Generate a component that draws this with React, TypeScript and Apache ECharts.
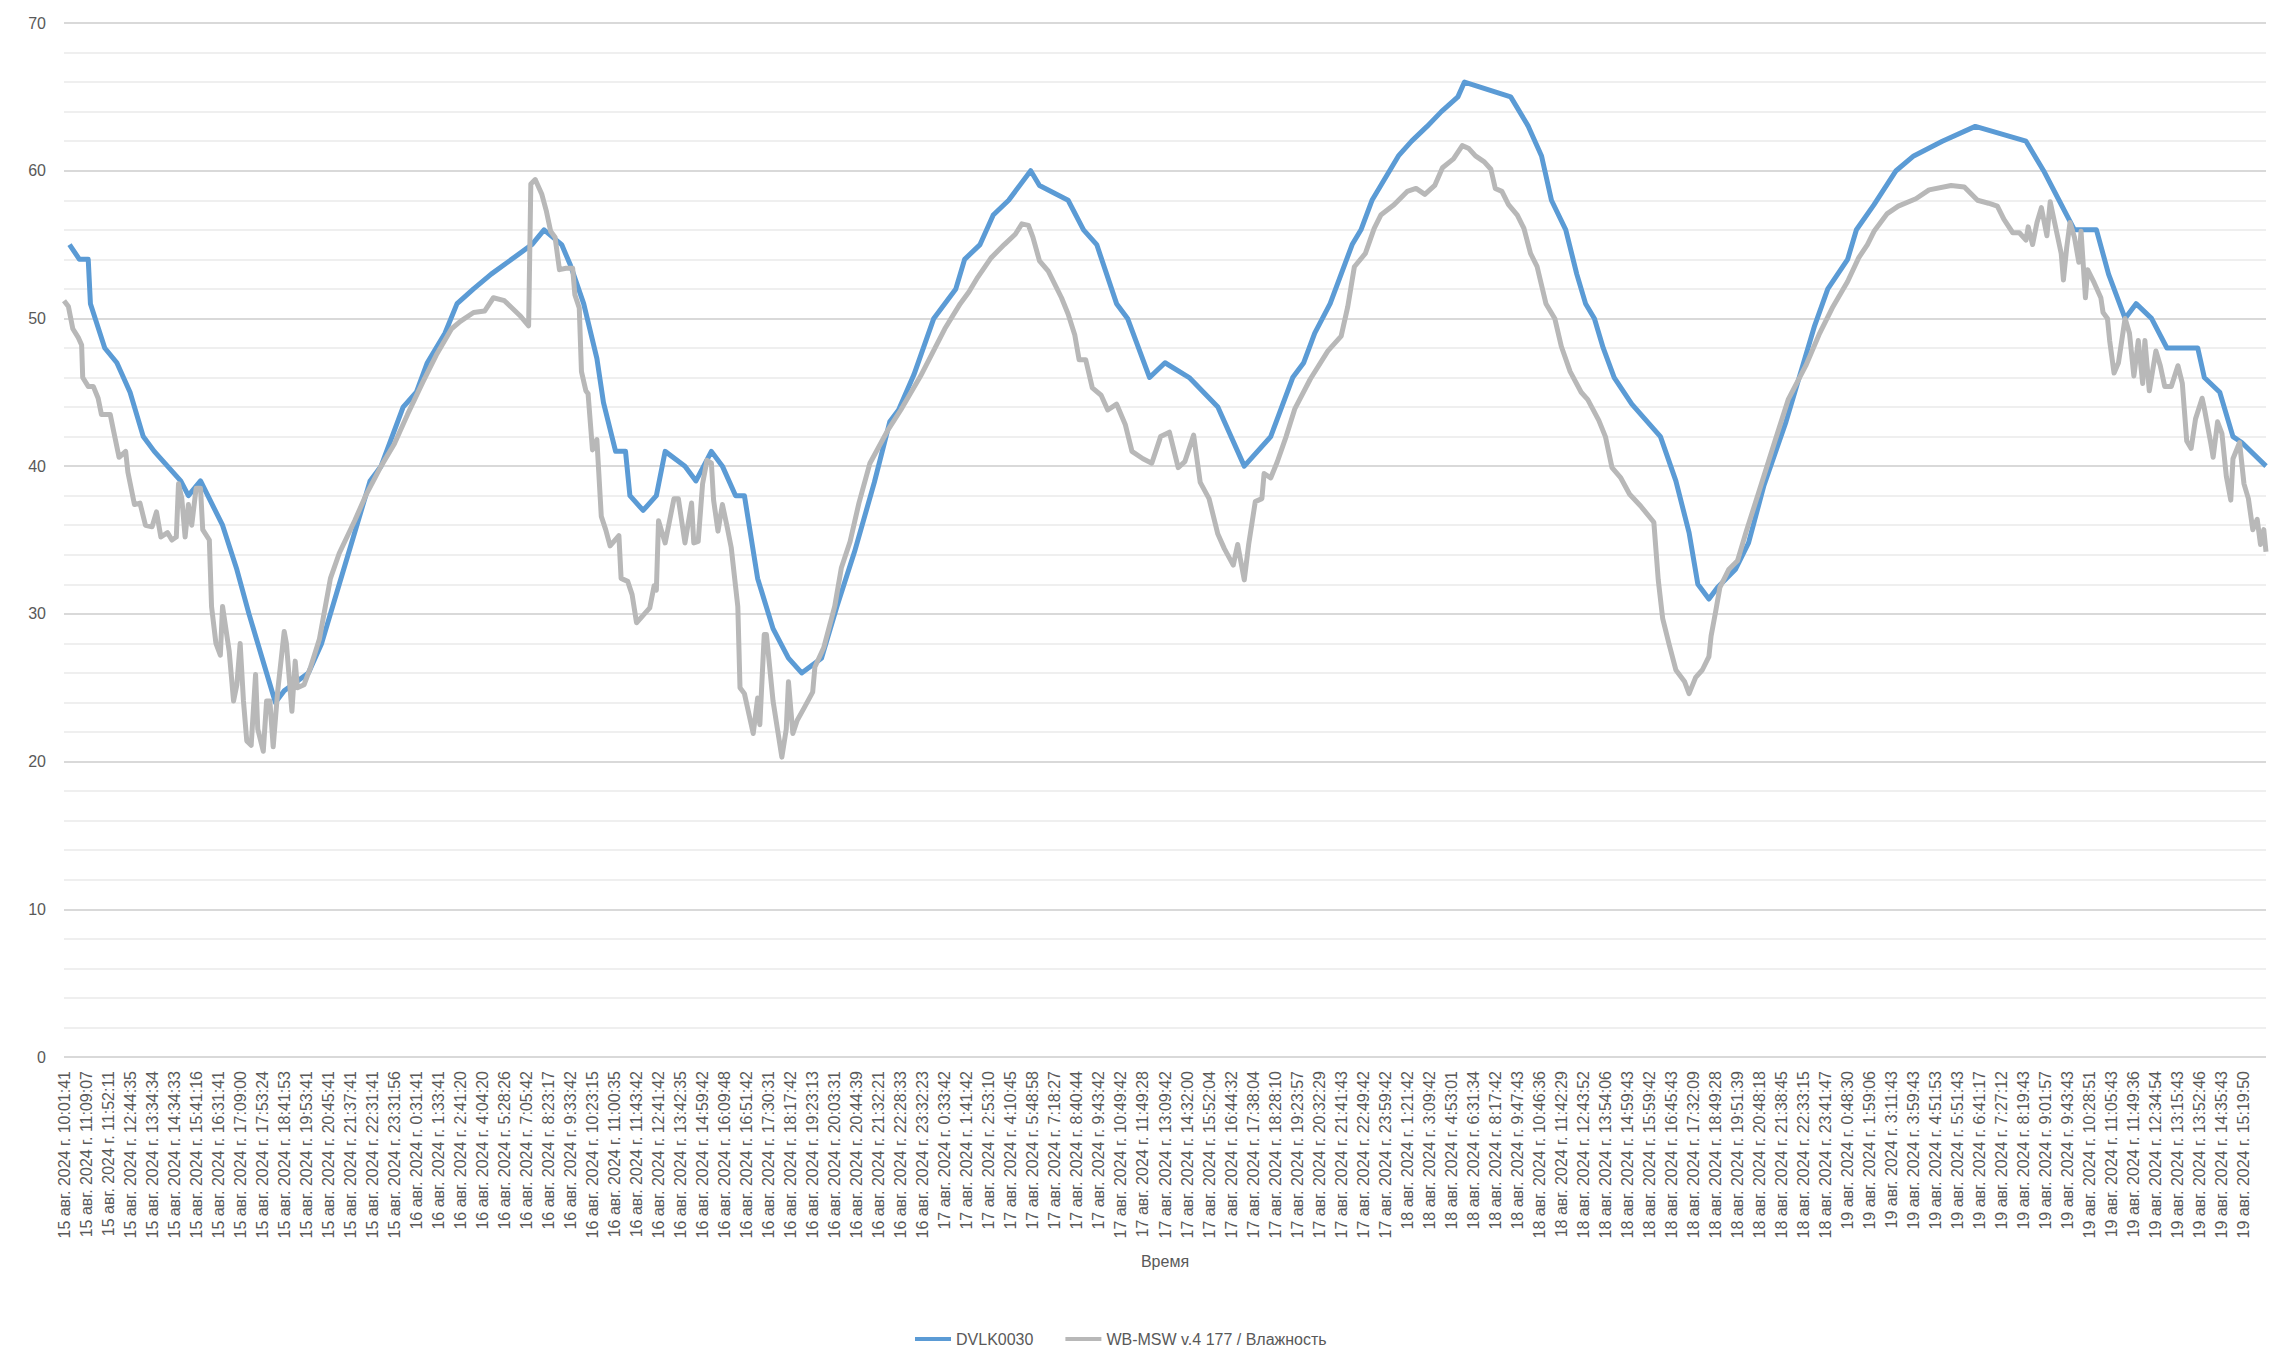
import { useEffect, useRef } from "react";
import * as echarts from "echarts";

// tick labels of the time axis (every labelled row of the source table)
const timeLabels: string[] = [
  "15 авг. 2024 г. 10:01:41", "15 авг. 2024 г. 11:09:07", "15 авг. 2024 г. 11:52:11", "15 авг. 2024 г. 12:44:35",
  "15 авг. 2024 г. 13:34:34", "15 авг. 2024 г. 14:34:33", "15 авг. 2024 г. 15:41:16", "15 авг. 2024 г. 16:31:41",
  "15 авг. 2024 г. 17:09:00", "15 авг. 2024 г. 17:53:24", "15 авг. 2024 г. 18:41:53", "15 авг. 2024 г. 19:53:41",
  "15 авг. 2024 г. 20:45:41", "15 авг. 2024 г. 21:37:41", "15 авг. 2024 г. 22:31:41", "15 авг. 2024 г. 23:31:56",
  "16 авг. 2024 г. 0:31:41", "16 авг. 2024 г. 1:33:41", "16 авг. 2024 г. 2:41:20", "16 авг. 2024 г. 4:04:20",
  "16 авг. 2024 г. 5:28:26", "16 авг. 2024 г. 7:05:42", "16 авг. 2024 г. 8:23:17", "16 авг. 2024 г. 9:33:42",
  "16 авг. 2024 г. 10:23:15", "16 авг. 2024 г. 11:00:35", "16 авг. 2024 г. 11:43:42", "16 авг. 2024 г. 12:41:42",
  "16 авг. 2024 г. 13:42:35", "16 авг. 2024 г. 14:59:42", "16 авг. 2024 г. 16:09:48", "16 авг. 2024 г. 16:51:42",
  "16 авг. 2024 г. 17:30:31", "16 авг. 2024 г. 18:17:42", "16 авг. 2024 г. 19:23:13", "16 авг. 2024 г. 20:03:31",
  "16 авг. 2024 г. 20:44:39", "16 авг. 2024 г. 21:32:21", "16 авг. 2024 г. 22:28:33", "16 авг. 2024 г. 23:32:23",
  "17 авг. 2024 г. 0:33:42", "17 авг. 2024 г. 1:41:42", "17 авг. 2024 г. 2:53:10", "17 авг. 2024 г. 4:10:45",
  "17 авг. 2024 г. 5:48:58", "17 авг. 2024 г. 7:18:27", "17 авг. 2024 г. 8:40:44", "17 авг. 2024 г. 9:43:42",
  "17 авг. 2024 г. 10:49:42", "17 авг. 2024 г. 11:49:28", "17 авг. 2024 г. 13:09:42", "17 авг. 2024 г. 14:32:00",
  "17 авг. 2024 г. 15:52:04", "17 авг. 2024 г. 16:44:32", "17 авг. 2024 г. 17:38:04", "17 авг. 2024 г. 18:28:10",
  "17 авг. 2024 г. 19:23:57", "17 авг. 2024 г. 20:32:29", "17 авг. 2024 г. 21:41:43", "17 авг. 2024 г. 22:49:42",
  "17 авг. 2024 г. 23:59:42", "18 авг. 2024 г. 1:21:42", "18 авг. 2024 г. 3:09:42", "18 авг. 2024 г. 4:53:01",
  "18 авг. 2024 г. 6:31:34", "18 авг. 2024 г. 8:17:42", "18 авг. 2024 г. 9:47:43", "18 авг. 2024 г. 10:46:36",
  "18 авг. 2024 г. 11:42:29", "18 авг. 2024 г. 12:43:52", "18 авг. 2024 г. 13:54:06", "18 авг. 2024 г. 14:59:43",
  "18 авг. 2024 г. 15:59:42", "18 авг. 2024 г. 16:45:43", "18 авг. 2024 г. 17:32:09", "18 авг. 2024 г. 18:49:28",
  "18 авг. 2024 г. 19:51:39", "18 авг. 2024 г. 20:48:18", "18 авг. 2024 г. 21:38:45", "18 авг. 2024 г. 22:33:15",
  "18 авг. 2024 г. 23:41:47", "19 авг. 2024 г. 0:48:30", "19 авг. 2024 г. 1:59:06", "19 авг. 2024 г. 3:11:43",
  "19 авг. 2024 г. 3:59:43", "19 авг. 2024 г. 4:51:53", "19 авг. 2024 г. 5:51:43", "19 авг. 2024 г. 6:41:17",
  "19 авг. 2024 г. 7:27:12", "19 авг. 2024 г. 8:19:43", "19 авг. 2024 г. 9:01:57", "19 авг. 2024 г. 9:43:43",
  "19 авг. 2024 г. 10:28:51", "19 авг. 2024 г. 11:05:43", "19 авг. 2024 г. 11:49:36", "19 авг. 2024 г. 12:34:54",
  "19 авг. 2024 г. 13:15:43", "19 авг. 2024 г. 13:52:46", "19 авг. 2024 г. 14:35:43", "19 авг. 2024 г. 15:19:50",
];

const seriesNames = ["DVLK0030", "WB-MSW v.4 177 / Влажность"];

// [position in label steps, humidity %]
const dvlkPoints: [number, number][] = [
  [0.25, 55], [0.7, 54], [1.1, 54], [1.2, 51], [1.85, 48], [2.4, 47], [3.0, 45], [3.6, 42], [4.1, 41],
  [4.7, 40], [5.3, 39], [5.65, 38], [6.2, 39], [7.2, 36], [7.85, 33], [8.4, 30], [9.0, 27], [9.6, 24],
  [10.0, 24.8], [11.1, 26], [11.7, 28], [12.5, 32], [13.3, 36], [13.9, 39], [14.4, 40], [15.4, 44],
  [16.0, 45], [16.5, 47], [17.3, 49], [17.85, 51], [18.6, 52], [19.4, 53], [21.25, 55], [21.8, 56],
  [22.6, 55], [23.0, 53.6], [23.6, 51], [24.2, 47.3], [24.5, 44.3], [25.05, 41], [25.5, 41], [25.7, 38],
  [26.3, 37], [26.9, 38], [27.3, 41], [28.2, 40], [28.7, 39], [29.4, 41], [29.9, 40], [30.5, 38],
  [30.9, 38], [31.5, 32.4], [32.2, 29], [32.9, 27], [33.5, 26], [34.4, 27], [35.1, 30.5], [35.9, 34.2],
  [36.8, 38.9], [37.5, 43], [37.9, 43.8], [38.6, 46.2], [39.5, 50], [40.5, 52], [40.9, 54], [41.6, 55],
  [42.2, 57], [42.9, 58], [43.9, 60], [44.3, 59], [45.6, 58], [46.3, 56], [46.9, 55], [47.8, 51],
  [48.3, 50], [49.3, 46], [50.0, 47], [51.1, 46], [52.4, 44], [53.6, 40], [54.8, 42], [55.8, 46],
  [56.3, 47], [56.8, 49], [57.5, 51], [58.5, 55], [58.9, 56], [59.4, 58], [59.8, 59], [60.6, 61],
  [61.2, 62], [61.9, 63], [62.55, 64], [63.3, 65], [63.6, 66], [65.7, 65], [66.5, 63], [67.1, 61],
  [67.55, 58], [68.2, 56], [68.7, 53], [69.1, 51], [69.5, 50], [69.9, 48], [70.4, 46], [71.2, 44.2],
  [72.5, 42], [73.2, 39], [73.8, 35.5], [74.2, 32], [74.7, 31], [75.1, 31.8], [75.9, 33], [76.5, 34.8],
  [77.2, 38.7], [78.2, 43], [78.9, 46.5], [79.5, 49.5], [80.1, 52], [81.0, 54], [81.4, 56], [82.2, 57.7],
  [83.2, 60], [84.0, 61], [85.3, 62], [86.8, 63], [89.1, 62], [89.9, 60], [90.6, 58], [91.3, 56],
  [92.3, 56], [92.85, 53], [93.6, 50], [94.1, 51], [94.8, 50], [95.5, 48], [96.9, 48], [97.2, 46],
  [97.9, 45], [98.5, 42], [98.9, 41.6], [100, 40],
];

const wbPoints: [number, number][] = [
  [0, 51.2], [0.2, 50.8], [0.4, 49.3], [0.65, 48.7], [0.8, 48.2], [0.85, 46], [1.1, 45.4], [1.33, 45.4],
  [1.55, 44.6], [1.7, 43.5], [2.1, 43.5], [2.25, 42.4], [2.5, 40.6], [2.8, 41], [2.9, 39.6], [3.2, 37.4],
  [3.45, 37.5], [3.7, 36], [4.0, 35.9], [4.2, 36.9], [4.4, 35.2], [4.7, 35.5], [4.9, 35], [5.1, 35.2],
  [5.2, 38.8], [5.35, 37.8], [5.5, 35.2], [5.65, 37.4], [5.8, 36], [6.0, 38.5], [6.2, 38.5], [6.3, 35.7],
  [6.6, 35], [6.7, 30.5], [6.9, 28], [7.1, 27.2], [7.2, 30.5], [7.5, 27.5], [7.7, 24.1], [7.85, 25.2],
  [8.0, 28], [8.15, 24.1], [8.3, 21.4], [8.5, 21.1], [8.7, 25.9], [8.8, 22.2], [9.05, 20.7], [9.2, 24.1],
  [9.35, 24.1], [9.5, 21], [9.7, 24.7], [10.0, 28.8], [10.1, 28], [10.35, 23.4], [10.5, 26.8], [10.6, 25],
  [10.9, 25.2], [11.2, 26.4], [11.6, 28.3], [12.1, 32.4], [12.5, 34.1], [13.2, 36.3], [13.7, 38], [14.4, 40],
  [15.0, 41.5], [15.6, 43.5], [16.3, 45.7], [16.9, 47.5], [17.6, 49.3], [18.0, 49.8], [18.6, 50.4], [19.1, 50.5],
  [19.5, 51.4], [20.0, 51.2], [20.7, 50.2], [21.1, 49.5], [21.2, 59.1], [21.4, 59.4], [21.7, 58.4], [21.9, 57.3],
  [22.1, 55.9], [22.3, 55.5], [22.5, 53.3], [22.8, 53.4], [23.1, 53.4], [23.2, 51.6], [23.4, 50.7], [23.5, 46.4],
  [23.7, 45.1], [23.8, 44.9], [24.0, 41.1], [24.2, 41.8], [24.4, 36.6], [24.6, 35.7], [24.8, 34.6], [25.2, 35.3],
  [25.3, 32.4], [25.6, 32.2], [25.8, 31.3], [26.0, 29.4], [26.3, 29.9], [26.6, 30.4], [26.8, 31.9], [26.9, 31.6],
  [27.0, 36.3], [27.3, 34.8], [27.7, 37.8], [27.9, 37.8], [28.2, 34.8], [28.5, 37.5], [28.6, 34.8], [28.8, 34.9],
  [29.0, 38.8], [29.2, 40.4], [29.4, 40.2], [29.5, 37.7], [29.7, 35.6], [29.9, 37.4], [30.1, 36], [30.3, 34.5],
  [30.6, 30.5], [30.7, 25], [30.9, 24.6], [31.3, 21.9], [31.5, 24.3], [31.6, 22.5], [31.8, 28.6], [31.9, 28.6],
  [32.2, 24.1], [32.4, 22.2], [32.6, 20.3], [32.8, 22.2], [32.9, 25.4], [33.1, 21.9], [33.3, 22.8], [33.6, 23.6],
  [34.0, 24.7], [34.1, 26.4], [34.5, 27.7], [35.0, 30.5], [35.3, 33.1], [35.7, 34.9], [36.1, 37.5], [36.6, 40.2],
  [37.4, 42.4], [38.0, 43.8], [38.9, 46.1], [40.0, 49.3], [40.7, 51], [41.1, 51.8], [41.5, 52.8], [42.1, 54.1],
  [42.7, 55], [43.2, 55.7], [43.5, 56.4], [43.8, 56.3], [44.0, 55.5], [44.3, 53.9], [44.7, 53.2], [45.3, 51.4],
  [45.6, 50.3], [45.9, 48.9], [46.1, 47.2], [46.4, 47.2], [46.7, 45.3], [47.1, 44.8], [47.4, 43.8], [47.8, 44.2],
  [48.2, 42.8], [48.5, 41], [49.0, 40.5], [49.4, 40.2], [49.8, 42], [50.2, 42.3], [50.6, 39.9], [50.9, 40.3],
  [51.3, 42.1], [51.6, 38.9], [52.0, 37.8], [52.4, 35.4], [52.7, 34.4], [53.1, 33.3], [53.3, 34.7], [53.6, 32.3],
  [53.8, 34.7], [54.1, 37.6], [54.4, 37.8], [54.5, 39.5], [54.8, 39.2], [55.1, 40.3], [55.5, 42], [55.9, 43.9],
  [56.6, 45.9], [57.4, 47.8], [58.0, 48.8], [58.3, 50.8], [58.6, 53.5], [59.1, 54.4], [59.5, 56.1], [59.8, 57],
  [60.4, 57.7], [61.0, 58.6], [61.4, 58.8], [61.8, 58.4], [62.25, 59], [62.6, 60.2], [63.1, 60.8], [63.5, 61.7],
  [63.8, 61.5], [64.1, 61], [64.5, 60.6], [64.8, 60.1], [65.0, 58.8], [65.3, 58.6], [65.6, 57.7], [66.0, 57],
  [66.3, 56.1], [66.6, 54.4], [66.9, 53.5], [67.3, 51], [67.7, 50], [68.0, 48.1], [68.4, 46.4], [68.9, 45],
  [69.2, 44.5], [69.7, 43.1], [70.0, 42], [70.3, 39.9], [70.7, 39.2], [71.1, 38.1], [71.6, 37.3], [72.2, 36.2],
  [72.4, 32.3], [72.6, 29.7], [72.9, 27.9], [73.2, 26.2], [73.6, 25.4], [73.8, 24.6], [74.1, 25.7], [74.4, 26.2],
  [74.7, 27.1], [74.8, 28.5], [75.0, 30.1], [75.2, 31.8], [75.6, 33], [76.0, 33.6], [76.4, 35.6], [77.0, 38.4],
  [77.7, 41.7], [78.3, 44.5], [79.1, 46.8], [79.7, 48.9], [80.3, 50.7], [81.0, 52.5], [81.5, 54.1], [81.9, 55],
  [82.2, 55.9], [82.8, 57.1], [83.3, 57.6], [84.1, 58.1], [84.7, 58.7], [85.7, 59], [86.3, 58.9], [86.9, 58],
  [87.4, 57.8], [87.8, 57.6], [88.1, 56.7], [88.5, 55.8], [88.8, 55.8], [89.1, 55.3], [89.2, 56.2], [89.4, 55],
  [89.6, 56.5], [89.8, 57.5], [90.05, 55.6], [90.2, 57.9], [90.4, 56.5], [90.7, 54.4], [90.8, 52.6], [90.95, 54.8],
  [91.1, 56.5], [91.3, 55.5], [91.5, 53.8], [91.6, 55.9], [91.8, 51.4], [91.9, 53.3], [92.2, 52.4], [92.5, 51.4],
  [92.6, 50.4], [92.8, 50], [92.9, 48.5], [93.1, 46.3], [93.3, 47], [93.6, 50], [93.8, 49], [94.0, 46.1],
  [94.2, 48.5], [94.4, 45.6], [94.5, 48.5], [94.7, 45.1], [95.0, 47.8], [95.2, 46.8], [95.4, 45.4], [95.7, 45.4],
  [96.0, 46.8], [96.2, 45.6], [96.4, 41.7], [96.6, 41.2], [96.8, 43.2], [97.1, 44.6], [97.2, 43.9], [97.5, 41.5],
  [97.6, 40.6], [97.8, 43], [98.0, 42.2], [98.2, 39.3], [98.4, 37.7], [98.5, 40.5], [98.8, 41.6], [99.0, 38.8],
  [99.2, 37.8], [99.4, 35.7], [99.6, 36.4], [99.75, 34.7], [99.9, 35.7], [100, 34.2],
];

const yMin = 0;
const yMax = 70;
const yStep = 10;

const FONT = "'Liberation Sans', Arial, sans-serif";
const TEXT = "#595959";
const BLUE = "#5B9BD5";
const GRAY = "#B8B8B8";

export default function App() {
  const chartRef = useRef<HTMLDivElement>(null);

  useEffect(() => {
    if (!chartRef.current) return;
    const chart = echarts.init(chartRef.current, null, { renderer: "svg" });
    chart.setOption({
      animation: false,
      backgroundColor: "#ffffff",
      textStyle: { fontFamily: FONT },
      grid: { left: 64, right: 4, top: 23, bottom: 311 },
      legend: {
        data: seriesNames,
        left: 910,
        top: 1326,
        icon: "rect",
        itemWidth: 36,
        itemHeight: 4,
        itemGap: 32,
        textStyle: { fontSize: 16, color: TEXT, fontFamily: FONT },
      },
      xAxis: {
        type: "value",
        min: 0,
        max: timeLabels.length,
        interval: 1,
        name: "Время",
        nameLocation: "middle",
        nameGap: 196,
        nameTextStyle: { fontSize: 16, color: TEXT, fontFamily: FONT },
        axisLine: { show: false },
        axisTick: { show: false },
        splitLine: { show: false },
        axisLabel: {
          rotate: 90,
          margin: 14,
          fontSize: 16,
          color: TEXT,
          fontFamily: FONT,
          showMaxLabel: true,
          formatter: (v: number) => timeLabels[v] ?? "",
        },
      },
      yAxis: {
        type: "value",
        min: yMin,
        max: yMax,
        interval: yStep,
        axisLine: { show: false },
        axisTick: { show: false },
        axisLabel: { fontSize: 16, color: TEXT, fontFamily: FONT, margin: 18 },
        splitLine: { lineStyle: { color: "#D9D9D9", width: 2 } },
        minorTick: { show: false, splitNumber: 5 },
        minorSplitLine: { show: true, lineStyle: { color: "#EFEFEF", width: 2 } },
      },
      series: [
        {
          name: seriesNames[0],
          type: "line",
          data: dvlkPoints,
          symbol: "none",
          lineStyle: { color: BLUE, width: 5, join: "round" },
          itemStyle: { color: BLUE },
        },
        {
          name: seriesNames[1],
          type: "line",
          data: wbPoints,
          symbol: "none",
          lineStyle: { color: GRAY, width: 5, join: "round" },
          itemStyle: { color: GRAY },
        },
      ],
    });
    return () => chart.dispose();
  }, []);

  return (
    <div
      ref={chartRef}
      style={{ position: "absolute", left: 0, top: 0, width: 2270, height: 1368 }}
    />
  );
}
